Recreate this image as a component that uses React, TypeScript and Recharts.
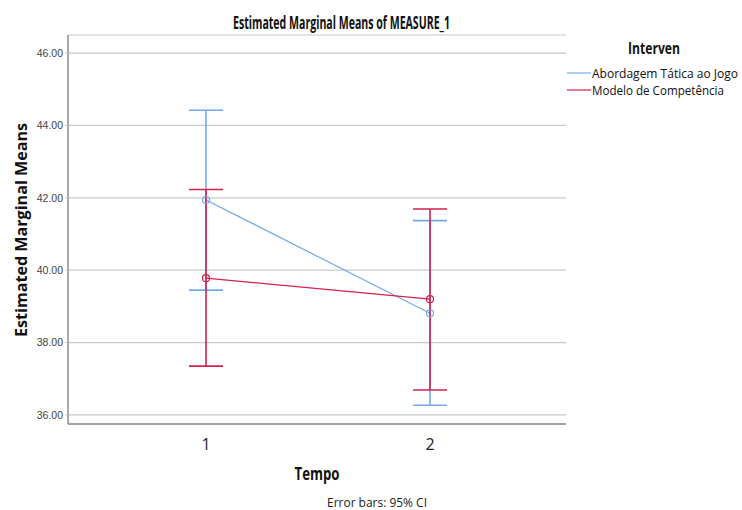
import React from 'react';
import { ComposedChart, Line, XAxis, YAxis, CartesianGrid, ErrorBar } from 'recharts';

const tempos = [1, 2];
const seriesNames = ['Abordagem Tática ao Jogo', 'Modelo de Competência'];
const abordagemMean = [41.94, 38.81];
const abordagemLower = [39.45, 36.27];
const abordagemUpper = [44.42, 41.37];
const modeloMean = [39.78, 39.2];
const modeloLower = [37.35, 36.69];
const modeloUpper = [42.23, 41.69];
const yTicks = [36, 38, 40, 42, 44, 46];

const BLUE = '#74a9e7';
const RED = '#d3204c';
const COLORS = [BLUE, RED];

const data = tempos.map((t, i) => ({
  tempo: t,
  abordagem: abordagemMean[i],
  abordagemErr: [abordagemMean[i] - abordagemLower[i], abordagemUpper[i] - abordagemMean[i]],
  modelo: modeloMean[i],
  modeloErr: [modeloMean[i] - modeloLower[i], modeloUpper[i] - modeloMean[i]],
}));

const FONT = "'Liberation Sans', Arial, sans-serif";
const HUM = "'Open Sans', 'Liberation Sans', sans-serif";

export default function App() {
  return (
    <div style={{ position: 'absolute', left: 0, top: 0, width: 742, height: 510, background: '#fff' }}>
      <ComposedChart width={742} height={510} data={data} margin={{ top: 35, right: 176, bottom: 0, left: 0 }}>
        <CartesianGrid vertical={false} stroke="#c9c9c9" strokeWidth={1.2} />
        <XAxis
          dataKey="tempo"
          type="number"
          domain={[0.384, 2.607]}
          ticks={tempos}
          allowDataOverflow
          height={86}
          tickLine={false}
          tickMargin={9}
          axisLine={{ stroke: '#8c8c8c', strokeWidth: 1.5 }}
          tick={{ fill: '#222', fontSize: 16, fontFamily: HUM }}
        />
        <YAxis
          type="number"
          domain={[35.75, 46.5]}
          ticks={yTicks}
          allowDataOverflow
          width={68}
          tickSize={3}
          tickMargin={2}
          tickFormatter={(v: number) => v.toFixed(2)}
          axisLine={{ stroke: '#8c8c8c', strokeWidth: 1.5 }}
          tickLine={{ stroke: '#c9c9c9' }}
          tick={{ fill: '#444', fontSize: 10.5, fontFamily: FONT }}
        />
        <Line
          dataKey="abordagem"
          name={seriesNames[0]}
          stroke={BLUE}
          strokeWidth={1.2}
          dot={{ r: 3.5, stroke: BLUE, strokeWidth: 1.2, fill: '#fff', fillOpacity: 0 }}
          isAnimationActive={false}
        >
          <ErrorBar dataKey="abordagemErr" direction="y" width={17} stroke={BLUE} strokeWidth={1.6} />
        </Line>
        <Line
          dataKey="modelo"
          name={seriesNames[1]}
          stroke={RED}
          strokeWidth={1.2}
          dot={{ r: 3.5, stroke: RED, strokeWidth: 1.2, fill: '#fff', fillOpacity: 0 }}
          isAnimationActive={false}
        >
          <ErrorBar dataKey="modeloErr" direction="y" width={17} stroke={RED} strokeWidth={1.6} />
        </Line>
      </ComposedChart>
      <svg width={742} height={510} style={{ position: 'absolute', left: 0, top: 0, pointerEvents: 'none' }}>
        <text x={341.5} y={22} textAnchor="middle" dominantBaseline="central" textLength={217} lengthAdjust="spacingAndGlyphs" fontFamily={HUM} fontWeight="bold" fontSize={17} fill="#111">Estimated Marginal Means of MEASURE_1</text>
        <text x={21} y={230} textAnchor="middle" dominantBaseline="central" transform="rotate(-90 21 230)" textLength={214} lengthAdjust="spacingAndGlyphs" fontFamily={HUM} fontWeight="bold" fontSize={15.5} fill="#111">Estimated Marginal Means</text>
        <text x={317} y={473} textAnchor="middle" dominantBaseline="central" textLength={45} lengthAdjust="spacingAndGlyphs" fontFamily={HUM} fontWeight="bold" fontSize={17} fill="#111">Tempo</text>
        <text x={377} y={502} textAnchor="middle" dominantBaseline="central" textLength={100} lengthAdjust="spacingAndGlyphs" fontFamily={HUM} fontSize={12} fill="#222">Error bars: 95% CI</text>
        <text x={654} y={48} textAnchor="middle" dominantBaseline="central" textLength={52} lengthAdjust="spacingAndGlyphs" fontFamily={HUM} fontWeight="bold" fontSize={16} fill="#111">Interven</text>
        {COLORS.map((c, i) => (
          <g key={i}>
            <line x1={567} x2={591} y1={73 + i * 17} y2={73 + i * 17} stroke={c} strokeWidth={1.2} />
            <text x={592} y={73 + i * 17} dominantBaseline="central" fontFamily={HUM} fontSize={12.2} fill="#111" textLength={i === 0 ? 146 : 132} lengthAdjust="spacingAndGlyphs">{seriesNames[i]}</text>
          </g>
        ))}
      </svg>
    </div>
  );
}
